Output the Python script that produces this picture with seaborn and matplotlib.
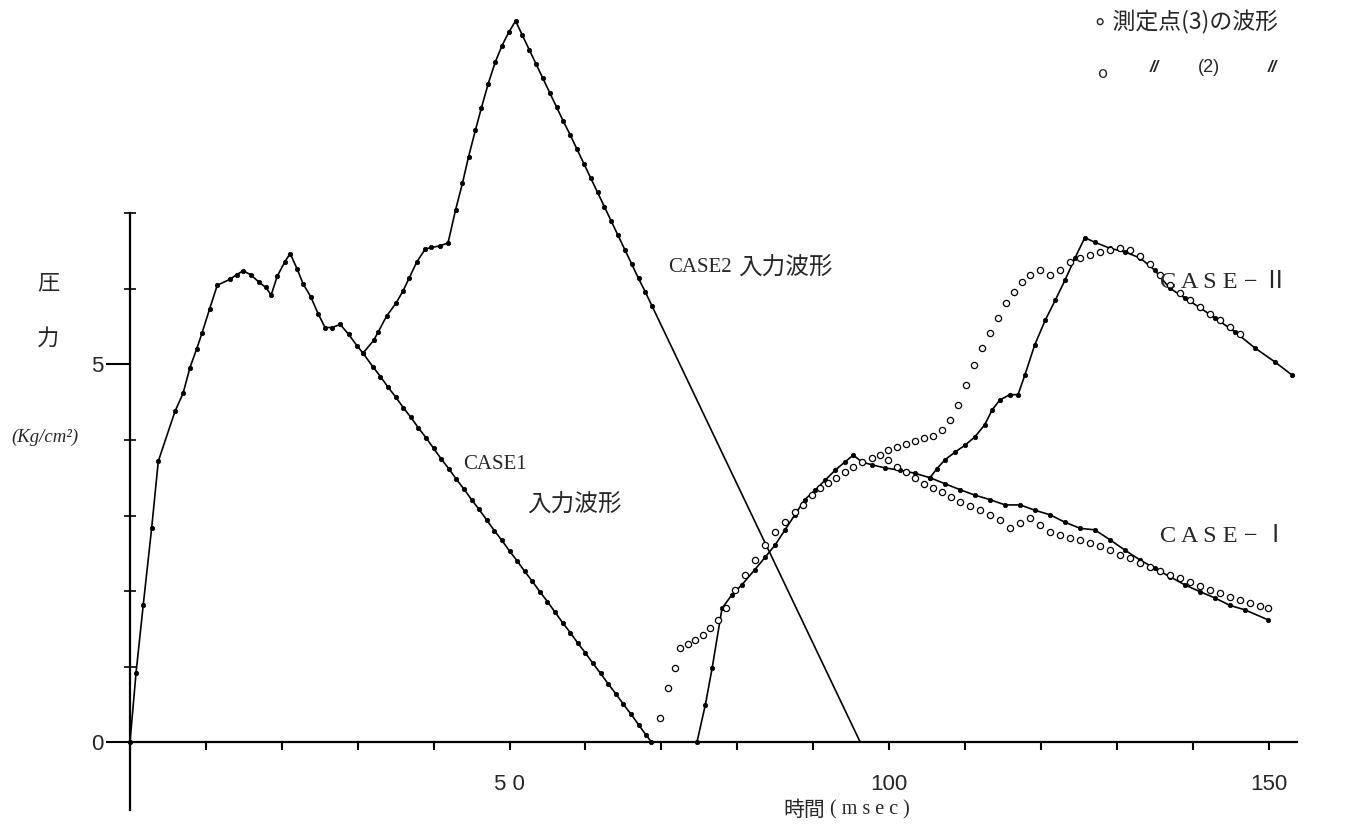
import matplotlib
matplotlib.use("Agg")
import matplotlib.pyplot as plt
import seaborn as sns
import numpy as np
import pandas as pd
from matplotlib.ticker import FixedLocator, FixedFormatter

sns.set_theme(style="white")
plt.rcParams['font.family'] = ['Noto Sans CJK JP', 'DejaVu Sans']

# ---------------- data ----------------
# CASE1 input waveform (ms, kg/cm2)
case1_t = [0, 0.8, 1.75, 2.86, 3.73, 5.93, 7.0, 7.9, 8.8, 9.5, 10.5, 11.5, 13.2, 14.05, 14.9,
           15.9, 17.0, 17.9, 18.6, 19.4, 20.4, 21.1, 22.0, 22.8, 23.8, 24.8, 25.7, 26.6, 27.7,
           28.8, 29.9, 30.7, 32, 33, 34, 35, 36, 37, 38, 39, 40, 41, 42, 43, 44, 45, 46, 47,
           48, 49, 50, 51, 52, 53, 54, 55, 56, 57, 58, 59, 60, 61, 62, 63, 64, 65, 66, 67, 68, 68.7]
case1_v = [0, 0.92, 1.82, 2.84, 3.72, 4.38, 4.62, 4.96, 5.21, 5.42, 5.74, 6.05, 6.13, 6.19, 6.24,
           6.19, 6.09, 6.02, 5.92, 6.17, 6.36, 6.47, 6.27, 6.07, 5.90, 5.67, 5.49, 5.49, 5.53,
           5.40, 5.25, 5.15, 4.97, 4.84, 4.70, 4.57, 4.43, 4.30, 4.16, 4.03, 3.89, 3.75, 3.62,
           3.48, 3.35, 3.21, 3.08, 2.94, 2.80, 2.67, 2.53, 2.40, 2.26, 2.13, 1.99, 1.86, 1.72,
           1.58, 1.45, 1.31, 1.18, 1.04, 0.91, 0.77, 0.64, 0.50, 0.37, 0.23, 0.09, 0.0]

# CASE2 input waveform (branches from CASE1 at 30.7 ms)
case2_t = [30.7, 32.1, 32.7, 33.8, 35.1, 36.0, 36.8, 37.8, 38.9, 39.7, 40.8, 41.9, 42.9, 43.8,
           44.6, 45.5, 46.3, 47.2, 48.1, 49.0, 49.9, 50.8, 51.7, 52.6, 53.5, 54.4, 55.3, 56.2,
           57.1, 58.0, 58.9, 59.8, 60.7, 61.6, 62.5, 63.4, 64.3, 65.2, 66.1, 67.0, 67.9, 68.8, 96.2]
case2_v = [5.15, 5.32, 5.43, 5.64, 5.82, 5.98, 6.15, 6.36, 6.53, 6.55, 6.57, 6.61, 7.05, 7.40,
           7.75, 8.10, 8.40, 8.72, 9.00, 9.22, 9.40, 9.55, 9.36, 9.17, 8.98, 8.79, 8.60, 8.41,
           8.22, 8.04, 7.85, 7.66, 7.47, 7.28, 7.09, 6.90, 6.71, 6.52, 6.33, 6.14, 5.96, 5.77, 0.0]

# measuring point (3) waveform, CASE-I
p3_case1_t = [74.7, 75.8, 76.7, 78.0, 79.3, 80.6, 82.3, 83.7, 85.0, 86.3, 87.6, 88.9, 90.3, 91.6,
              92.9, 94.2, 95.3, 96.4, 97.8, 99.5, 101.4, 103.4, 105.4, 107.4, 109.4, 111.3, 113.3,
              115.3, 117.3, 119.2, 121.2, 123.2, 125.2, 127.1, 129.1, 131.1, 133.1, 135.0, 137.0,
              139.0, 141.0, 142.9, 144.9, 146.9, 149.9]
p3_case1_v = [0.0, 0.49, 0.98, 1.77, 1.95, 2.08, 2.28, 2.45, 2.61, 2.81, 3.01, 3.21, 3.34, 3.47,
              3.60, 3.71, 3.80, 3.71, 3.67, 3.63, 3.60, 3.56, 3.50, 3.42, 3.34, 3.27, 3.21,
              3.14, 3.14, 3.07, 3.01, 2.91, 2.83, 2.81, 2.68, 2.54, 2.41, 2.30, 2.19,
              2.08, 1.99, 1.91, 1.81, 1.75, 1.62]

# measuring point (3) waveform, CASE-II (branches from CASE-I)
p3_case2_t = [105.4, 106.3, 107.4, 108.7, 110.0, 111.3, 112.6, 113.6, 114.6, 115.9, 117.0, 117.9,
              119.2, 120.6, 121.9, 123.2, 124.5, 125.8, 127.1, 129.1, 131.1, 133.1, 135.0, 137.0,
              139.0, 141.0, 142.9, 145.6, 148.2, 150.9, 153.1]
p3_case2_v = [3.50, 3.62, 3.74, 3.84, 3.93, 4.04, 4.20, 4.40, 4.53, 4.60, 4.60, 4.86, 5.26,
              5.59, 5.85, 6.12, 6.41, 6.68, 6.62, 6.54, 6.49, 6.41, 6.25, 6.01, 5.88,
              5.75, 5.62, 5.43, 5.22, 5.03, 4.86]

# measuring point (2) waveform (hollow circles), CASE-I
p2_case1_t = [69.8, 70.9, 71.8, 72.5, 73.5, 74.4, 75.5, 76.4, 77.5, 78.5, 79.7, 81.0, 82.3, 83.7,
              85.0, 86.3, 87.6, 88.7, 89.9, 90.9, 92.0, 93.0, 94.2, 95.3, 96.4, 97.8, 98.8, 99.9,
              101.1, 102.2, 103.4, 104.6, 105.8, 107.0, 108.2, 109.4, 110.7, 112.0, 113.3, 114.6,
              115.9, 117.3, 118.6, 119.9, 121.2, 122.5, 123.8, 125.2, 126.5, 127.8, 129.1, 130.4,
              131.8, 133.1, 134.4, 135.7, 137.0, 138.3, 139.7, 141.0, 142.3, 143.6, 144.9, 146.2,
              147.6, 148.9, 149.9]
p2_case1_v = [0.32, 0.72, 0.98, 1.25, 1.30, 1.35, 1.42, 1.51, 1.62, 1.77, 2.01, 2.21, 2.41, 2.61,
              2.78, 2.91, 3.05, 3.14, 3.27, 3.36, 3.43, 3.50, 3.58, 3.64, 3.71, 3.76, 3.80, 3.74,
              3.64, 3.58, 3.50, 3.42, 3.36, 3.31, 3.25, 3.18, 3.13, 3.07, 3.01, 2.94,
              2.83, 2.90, 2.97, 2.87, 2.78, 2.74, 2.70, 2.68, 2.64, 2.60, 2.54, 2.48,
              2.44, 2.37, 2.32, 2.26, 2.21, 2.17, 2.12, 2.07, 2.01, 1.97, 1.92, 1.88,
              1.84, 1.80, 1.77]

# measuring point (2) waveform (hollow circles), CASE-II
p2_case2_t = [99.9, 101.1, 102.2, 103.4, 104.6, 105.8, 107.0, 108.0, 109.1, 110.1, 111.2, 112.3,
              113.3, 114.4, 115.4, 116.5, 117.5, 118.6, 119.9, 121.2, 122.5, 123.8, 125.2, 126.5,
              127.8, 129.1, 130.4, 131.8, 133.1, 134.4, 135.7, 137.0, 138.3, 139.7, 141.0, 142.3,
              143.6, 144.9, 146.2]
p2_case2_v = [3.87, 3.91, 3.95, 3.99, 4.03, 4.05, 4.13, 4.26, 4.46, 4.73, 4.99, 5.22,
              5.42, 5.62, 5.81, 5.96, 6.09, 6.19, 6.25, 6.19, 6.25, 6.36, 6.41, 6.45,
              6.49, 6.52, 6.54, 6.52, 6.44, 6.33, 6.19, 6.05, 5.95, 5.85, 5.76, 5.67,
              5.59, 5.50, 5.40]

x_ticks = [0, 10, 20, 30, 40, 50, 60, 70, 80, 90, 100, 110, 120, 130, 140, 150]
x_tick_labels = ["", "", "", "", "", "5 0", "", "", "", "", "100", "", "", "", "", "150"]
y_major = [0, 5]
y_major_labels = ["0", "5"]
y_minor = [1, 2, 3, 4, 6, 7]

# ---------------- figure ----------------
W, H = 1351, 832
fig = plt.figure(figsize=(W / 100, H / 100), dpi=100)
ax = fig.add_axes([0, 0, 1, 1])
ax.set_facecolor("white")

X0, SX = 130.0, 7.59      # px of t=0, px per ms
Y0, SY = 742.0, 75.5      # px of v=0, px per unit
ax.set_xlim(-X0 / SX, (W - X0) / SX)
ax.set_ylim(-(H - Y0) / SY, Y0 / SY)

def fx(px):
    return px / W

def fy(py):
    return 1 - py / H

lw = 1.2
ms_dot = 3.2

def draw_line(t, v, dots=True, ndots=None):
    df = pd.DataFrame({"t": t, "v": v})
    sns.lineplot(data=df, x="t", y="v", sort=False, color="black", lw=lw, ax=ax,
                 estimator=None, legend=False)
    if dots:
        d = df if ndots is None else df.iloc[:ndots]
        sns.scatterplot(data=d, x="t", y="v", color="black", s=ms_dot ** 2, marker="o",
                        edgecolor="black", linewidth=0.5, ax=ax, legend=False, zorder=3)

draw_line(case1_t, case1_v)
draw_line(case2_t, case2_v, ndots=len(case2_t) - 1)
draw_line(p3_case1_t, p3_case1_v)
draw_line(p3_case2_t, p3_case2_v)

for t, v in [(p2_case1_t, p2_case1_v), (p2_case2_t, p2_case2_v)]:
    sns.scatterplot(x=t, y=v, marker="o", s=20, facecolor="white", edgecolor="black",
                    linewidth=0.9, ax=ax, legend=False, zorder=4)

ax.set_xlabel("")
ax.set_ylabel("")

# axes
for s in ["top", "right"]:
    ax.spines[s].set_visible(False)
ax.spines["left"].set_position(("data", 0))
ax.spines["bottom"].set_position(("data", 0))
ax.spines["left"].set_bounds(-0.9, 7.0)
ax.spines["bottom"].set_bounds(0, 153.8)
for s in ["left", "bottom"]:
    ax.spines[s].set_color("black")
    ax.spines[s].set_linewidth(1.6)

ax.xaxis.set_major_locator(FixedLocator(x_ticks))
ax.xaxis.set_major_formatter(FixedFormatter(x_tick_labels))
ax.yaxis.set_major_locator(FixedLocator(y_major))
ax.yaxis.set_major_formatter(FixedFormatter(y_major_labels))
ax.yaxis.set_minor_locator(FixedLocator(y_minor))
ax.tick_params(axis="x", which="major", direction="out", length=6, width=1.5, color="black",
               labelsize=16, pad=17, bottom=True)
ax.tick_params(axis="y", which="major", direction="out", length=17, width=1.5, color="black",
               labelsize=16, pad=2, left=True)
ax.tick_params(axis="y", which="minor", direction="inout", length=9, width=1.2, color="black",
               left=True)
for lab in ax.get_xticklabels() + ax.get_yticklabels():
    lab.set_family(["Liberation Sans", "DejaVu Sans"])
ax.grid(False)

# texts
serif = ["Liberation Serif", "Noto Sans CJK JP"]
fig.text(fx(48), fy(283), "圧", fontsize=16, ha="center", va="center")
fig.text(fx(48), fy(338), "力", fontsize=16, ha="center", va="center")
fig.text(fx(45), fy(437), "(Kg/cm²)", fontsize=13.5, ha="center", va="center",
         family=serif, style="italic")
fig.text(fx(668), fy(268), "CASE2", fontsize=15, ha="left", va="center", family=serif)
fig.text(fx(738), fy(268), "入力波形", fontsize=17, ha="left", va="center")
fig.text(fx(463), fy(465), "CASE1", fontsize=15, ha="left", va="center", family=serif)
fig.text(fx(527), fy(505), "入力波形", fontsize=17, ha="left", va="center")
fig.text(fx(1160), fy(283), "C A S E − Ⅱ", fontsize=17.5, ha="left", va="center", family=serif)
fig.text(fx(1160), fy(537), "C A S E − Ⅰ", fontsize=17.5, ha="left", va="center", family=serif)
fig.text(fx(1093), fy(22), "∘ 測定点(3)の波形", fontsize=16.5, ha="left", va="center")
fig.text(fx(1097), fy(74), "o", fontsize=12, ha="left", va="center")
fig.text(fx(1150), fy(68), "//", fontsize=12, ha="left", va="center", style="italic",
         family=["Liberation Sans", "DejaVu Sans"], weight="bold")
fig.text(fx(1198), fy(68), "(2)", fontsize=13, ha="left", va="center",
         family=["Liberation Sans", "DejaVu Sans"])
fig.text(fx(1268), fy(68), "//", fontsize=12, ha="left", va="center", style="italic",
         family=["Liberation Sans", "DejaVu Sans"], weight="bold")
fig.text(fx(783), fy(810), "時間", fontsize=15, ha="left", va="center")
fig.text(fx(830), fy(810), "( m s e c )", fontsize=14.5, ha="left", va="center", family=serif)

fig.savefig("out.png", dpi=100, facecolor="white")
